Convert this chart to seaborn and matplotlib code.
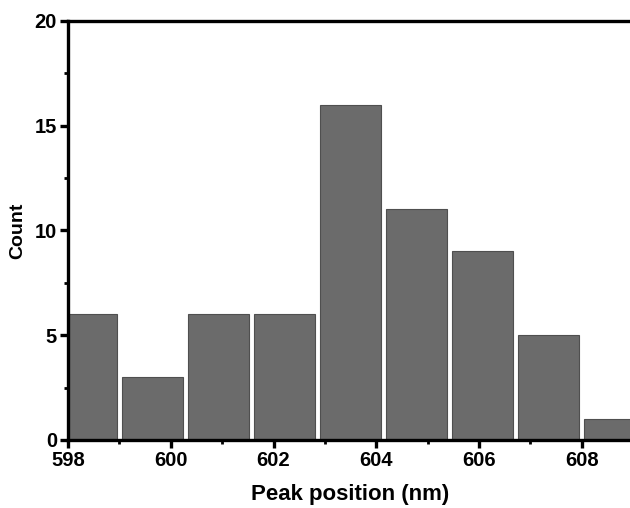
import matplotlib
matplotlib.use("Agg")
import matplotlib.pyplot as plt
import seaborn as sns
import pandas as pd
from matplotlib.ticker import MultipleLocator

bin_edges = [597.71, 599.0, 600.29, 601.57, 602.86, 604.14, 605.43, 606.71, 608.0, 609.29]
bin_centers = [598.36, 599.64, 600.93, 602.21, 603.5, 604.79, 606.07, 607.36, 608.64]
counts = [6, 3, 6, 6, 16, 11, 9, 5, 1]
x_ticks = [598, 600, 602, 604, 606, 608]
y_ticks = [0, 5, 10, 15, 20]

df = pd.DataFrame({"peak": bin_centers, "count": counts})

sns.set_style("ticks")
plt.rcParams["font.family"] = ["Liberation Sans", "DejaVu Sans"]
plt.rcParams["font.weight"] = "bold"
plt.rcParams["text.color"] = "black"
plt.rcParams["axes.labelcolor"] = "black"
plt.rcParams["xtick.color"] = "black"
plt.rcParams["ytick.color"] = "black"

fig = plt.figure(figsize=(6.3, 5.08), dpi=100)
ax = fig.add_axes([0.108, 0.134, 0.897, 0.825])

sns.histplot(data=df, x="peak", weights="count", bins=bin_edges, shrink=0.92,
             color="#6b6b6b", edgecolor="#4f4f4f", linewidth=0.8, alpha=1.0, ax=ax)

ax.set_xlim(598, 609)
ax.set_ylim(0, 20)
ax.set_xticks(x_ticks)
ax.set_yticks(y_ticks)
ax.xaxis.set_minor_locator(MultipleLocator(1))
ax.yaxis.set_minor_locator(MultipleLocator(2.5))

ax.set_xlabel("Peak position (nm)", fontsize=16, fontweight="bold", labelpad=10)
ax.set_ylabel("Count", fontsize=14, fontweight="bold", labelpad=6)

for s in ax.spines.values():
    s.set_linewidth(2.4)
    s.set_color("black")

ax.tick_params(axis="both", which="major", length=6, width=2.4, labelsize=14.5, pad=2)
ax.tick_params(axis="both", which="minor", length=3, width=2)
for lab in ax.get_xticklabels() + ax.get_yticklabels():
    lab.set_fontweight("bold")

fig.savefig("out.png", dpi=100)
plt.close()
